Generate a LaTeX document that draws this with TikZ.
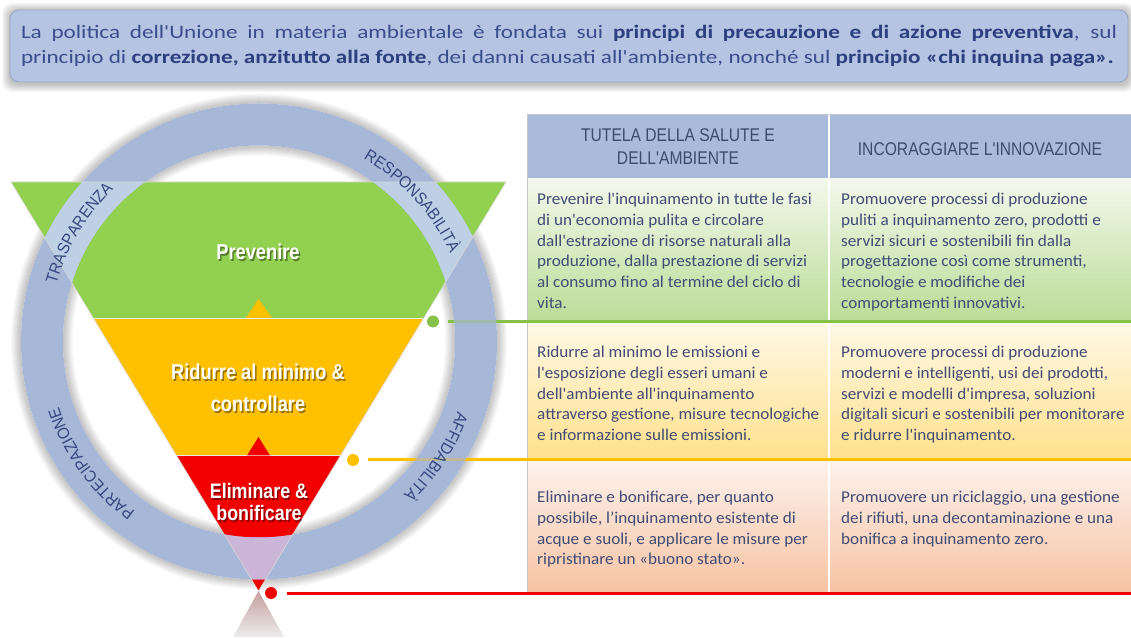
\documentclass[tikz,border=0pt]{standalone}
\usepackage{fontspec}
\setmainfont{Carlito}
\newfontfamily\bannerfont[FakeStretch=1.22]{Carlito}
\newfontfamily\bodyfont[FakeStretch=1.04]{Carlito}
\newfontfamily\hdrfont[FakeStretch=0.85]{Liberation Sans}
\newfontfamily\ringfont[FakeStretch=0.92]{Liberation Sans}
\usetikzlibrary{decorations.text,calc}
\definecolor{ringc}{HTML}{A7B7D7}
\definecolor{ringgreen}{HTML}{BDD0E6}
\definecolor{ringred}{HTML}{CBB5D8}
\definecolor{bannerfill}{HTML}{B4C4E2}
\definecolor{bannerdraw}{HTML}{97A5C0}
\definecolor{txtblue}{HTML}{3A4E8C}
\definecolor{boldblue}{HTML}{2C3F7E}
\definecolor{tgreen}{HTML}{92D050}
\definecolor{lgreen}{HTML}{86C24A}
\definecolor{tyellow}{HTML}{FFC000}
\definecolor{tred}{HTML}{F20000}
\definecolor{hdrfill}{HTML}{A9BADA}
\definecolor{hdrtext}{HTML}{3F4B6C}
\definecolor{bodytext}{HTML}{3F4C74}
\definecolor{ringtext}{HTML}{34487F}
\definecolor{rowAtop}{HTML}{F3F8EC}
\definecolor{rowAbot}{HTML}{BCDC98}
\definecolor{rowBtop}{HTML}{FFF8E6}
\definecolor{rowBbot}{HTML}{FFE08C}
\definecolor{rowCtop}{HTML}{FDF1EC}
\definecolor{rowCbot}{HTML}{F6C3A3}
\newcommand\hlb[1]{{\bfseries\color{boldblue}#1}}
\begin{document}
\begin{tikzpicture}[x=1pt,y=1pt,
  bodytxt/.style={anchor=north west, inner sep=0pt, align=left, text=bodytext, font=\bodyfont\fontsize{16.5}{20.8}\selectfont},
  hdrtxt/.style={text=hdrtext, align=center, inner sep=0pt, font=\hdrfont\fontsize{18.4}{23}\selectfont},
  tlabel/.style={text=white, align=center, inner sep=0pt},
  tshadow/.style={text=black, opacity=0.4, align=center, inner sep=0pt},
  dotnode/.style={circle, inner sep=0pt, minimum size=12pt},
  ringlabel/.style={decorate, decoration={text along path, text align=center, text color=ringtext}},
  banner/.style={rounded corners=9pt, fill=bannerfill, draw=bannerdraw, line width=0.8pt, minimum width=1118pt, minimum height=72pt, inner sep=0pt, align=left, text=txtblue, font=\bannerfont\fontsize{19}{25}\selectfont}
]
\useasboundingbox (0,0) rectangle (1131,637);
\fill[white] (0,0) rectangle (1131,637);
\coordinate (C) at (259,295.5);

% banner shadow
\foreach \k in {1,...,8}{
  \fill[black, opacity=0.03, rounded corners=10pt] (10-\k,555-\k-2) rectangle (1128+\k,627+\k-1);
}
\node[banner] (banner) at (569,591) {\makebox[1096pt][s]{La politica dell'Unione in materia ambientale è fondata sui \hlb{principi di precauzione e di azione preventiva}, sul}\\principio di \hlb{correzione, anzitutto alla fonte}, dei danni causati all'ambiente, nonché sul \hlb{principio «chi inquina paga».}};

% ring glow
\foreach \k in {1,...,10}{
  \fill[black, opacity=0.025, even odd rule] (C) circle (238+\k) (C) circle (238);
  \fill[black, opacity=0.025, even odd rule] (C) circle (196) (C) circle (196-\k);
}

% reflection below apex
\shade[top color=red!25!gray!60, bottom color=gray!15] (258.5,46) -- (233,0) -- (284,0) -- cycle;

% funnel
\begin{scope}
  \clip (11,455) -- (506,455) -- (258.5,46) -- cycle;
  \fill[tgreen] (0,319) rectangle (520,460);
  \fill[tyellow] (0,181.5) rectangle (520,319);
  \fill[tred] (0,40) rectangle (520,181.5);
  \draw[white!85!gray, line width=0.8pt] (0,319) -- (520,319) (0,181.5) -- (520,181.5);
\end{scope}
\fill[tyellow] (246,319) -- (272,319) -- (258.5,338) -- cycle;
\fill[tred] (247,181.5) -- (270,181.5) -- (258.5,200) -- cycle;

% connectors
\node[dotnode, fill=lgreen] (dotG) at (433,315.5) {};
\node[dotnode, fill=tyellow] (dotY) at (353,177) {};
\node[dotnode, fill=tred] (dotR) at (271,44) {};
\coordinate (gEnd) at (1131,315.5);
\coordinate (yEnd) at (1131,177);
\coordinate (rEnd) at (1131,44);

% table
\fill[hdrfill] (527,458) rectangle (1131,523);
\shade[top color=rowAtop, bottom color=rowAbot] (527,317) rectangle (1131,458);
\shade[top color=rowBtop, bottom color=rowBbot] (527,178) rectangle (1131,314);
\shade[top color=rowCtop, bottom color=rowCbot] (527,45) rectangle (1131,175);
\draw[white, line width=1.5pt] (829,523) -- (829,45);
\draw[gray!45, line width=0.8pt] (527,44) -- (527,523) -- (1131,523);

\draw[lgreen, line width=3pt] ([xshift=9pt]dotG.east) -- (gEnd);
\draw[tyellow, line width=3pt] ([xshift=9pt]dotY.east) -- (yEnd);
\draw[tred, line width=3pt] ([xshift=10pt]dotR.east) -- (rEnd);

% ring on top
\fill[ringc, even odd rule] (C) circle (238) (C) circle (196);
\begin{scope}
  \clip (11,455) -- (506,455) -- (258.5,46) -- cycle;
  \begin{scope}
    \clip (0,319) rectangle (520,460);
    \fill[ringgreen, even odd rule] (C) circle (238) (C) circle (196);
  \end{scope}
  \begin{scope}
    \clip (0,40) rectangle (520,181.5);
    \fill[ringred, even odd rule] (C) circle (238) (C) circle (196);
  \end{scope}
\end{scope}
\draw[gray!30, line width=0.6pt] (11,455) -- (506,455) -- (258.5,46) -- cycle;
\begin{scope}[even odd rule]
  \clip (C) circle (238) (C) circle (196);
  \draw[lgreen, opacity=0.3, line width=3pt] ([xshift=9pt]dotG.east) -- (gEnd);
  \draw[tyellow, opacity=0.3, line width=3pt] ([xshift=9pt]dotY.east) -- (yEnd);
\end{scope}
\path[ringlabel, decoration={text={|\ringfont\fontsize{16.5}{16.5}\selectfont|TRASPARENZA}}] ($(C)+(168:210.5)$) arc[start angle=168, end angle=130, radius=210.5];
\path[ringlabel, decoration={text={|\ringfont\fontsize{16.5}{16.5}\selectfont|RESPONSABILITÀ}}] ($(C)+(66:210.5)$) arc[start angle=66, end angle=19, radius=210.5];
\path[ringlabel, decoration={text={|\ringfont\fontsize{16.5}{16.5}\selectfont|AFFIDABILITÀ}}] ($(C)+(-13:210.5)$) arc[start angle=-13, end angle=-53, radius=210.5];
\path[ringlabel, decoration={text={|\ringfont\fontsize{16.5}{16.5}\selectfont|PARTECIPAZIONE}}] ($(C)+(240:210.5)$) arc[start angle=240, end angle=192, radius=210.5];

% funnel labels
\node[tshadow, font=\hdrfont\bfseries\fontsize{21.5}{32}\selectfont] at (259.5,383.5) {Prevenire};
\node[tlabel, font=\hdrfont\bfseries\fontsize{21.5}{32}\selectfont] (prev) at (258,385) {Prevenire};
\node[tshadow, font=\hdrfont\bfseries\fontsize{21.5}{32}\selectfont] at (259.5,247.5) {Ridurre al minimo \&\\controllare};
\node[tlabel, font=\hdrfont\bfseries\fontsize{21.5}{32}\selectfont] (ridu) at (258,249) {Ridurre al minimo \&\\controllare};
\node[tshadow, font=\hdrfont\bfseries\fontsize{21}{22}\selectfont] at (260.5,133.5) {Eliminare \&\\bonificare};
\node[tlabel, font=\hdrfont\bfseries\fontsize{21}{22}\selectfont] (elim) at (259,135) {Eliminare \&\\bonificare};

% table text
\node[hdrtxt] (h1) at (678,490.5) {TUTELA DELLA SALUTE E\\DELL'AMBIENTE};
\node[hdrtxt] (h2) at (980,488) {INCORAGGIARE L'INNOVAZIONE};

\node[bodytxt] (r1a) at (537,447.2) {\strut Prevenire l'inquinamento in tutte le fasi\\di un'economia pulita e circolare\\dall'estrazione di risorse naturali alla\\produzione, dalla prestazione di servizi\\al consumo fino al termine del ciclo di\\vita.};
\node[bodytxt] (r1b) at (841,447.2) {\strut Promuovere processi di produzione\\puliti a inquinamento zero, prodotti e\\servizi sicuri e sostenibili fin dalla\\progettazione così come strumenti,\\tecnologie e modifiche dei\\comportamenti innovativi.};
\node[bodytxt] (r2a) at (537,294.2) {\strut Ridurre al minimo le emissioni e\\l'esposizione degli esseri umani e\\dell'ambiente all'inquinamento\\attraverso gestione, misure tecnologiche\\e informazione sulle emissioni.};
\node[bodytxt] (r2b) at (841,294.2) {\strut Promuovere processi di produzione\\moderni e intelligenti, usi dei prodotti,\\servizi e modelli d'impresa, soluzioni\\digitali sicuri e sostenibili per monitorare\\e ridurre l'inquinamento.};
\node[bodytxt] (r3a) at (537,149.2) {\strut Eliminare e bonificare, per quanto\\possibile, l’inquinamento esistente di\\acque e suoli, e applicare le misure per\\ripristinare un «buono stato».};
\node[bodytxt] (r3b) at (841,149.2) {\strut Promuovere un riciclaggio, una gestione\\dei rifiuti, una decontaminazione e una\\bonifica a inquinamento zero.};
\end{tikzpicture}
\end{document}
